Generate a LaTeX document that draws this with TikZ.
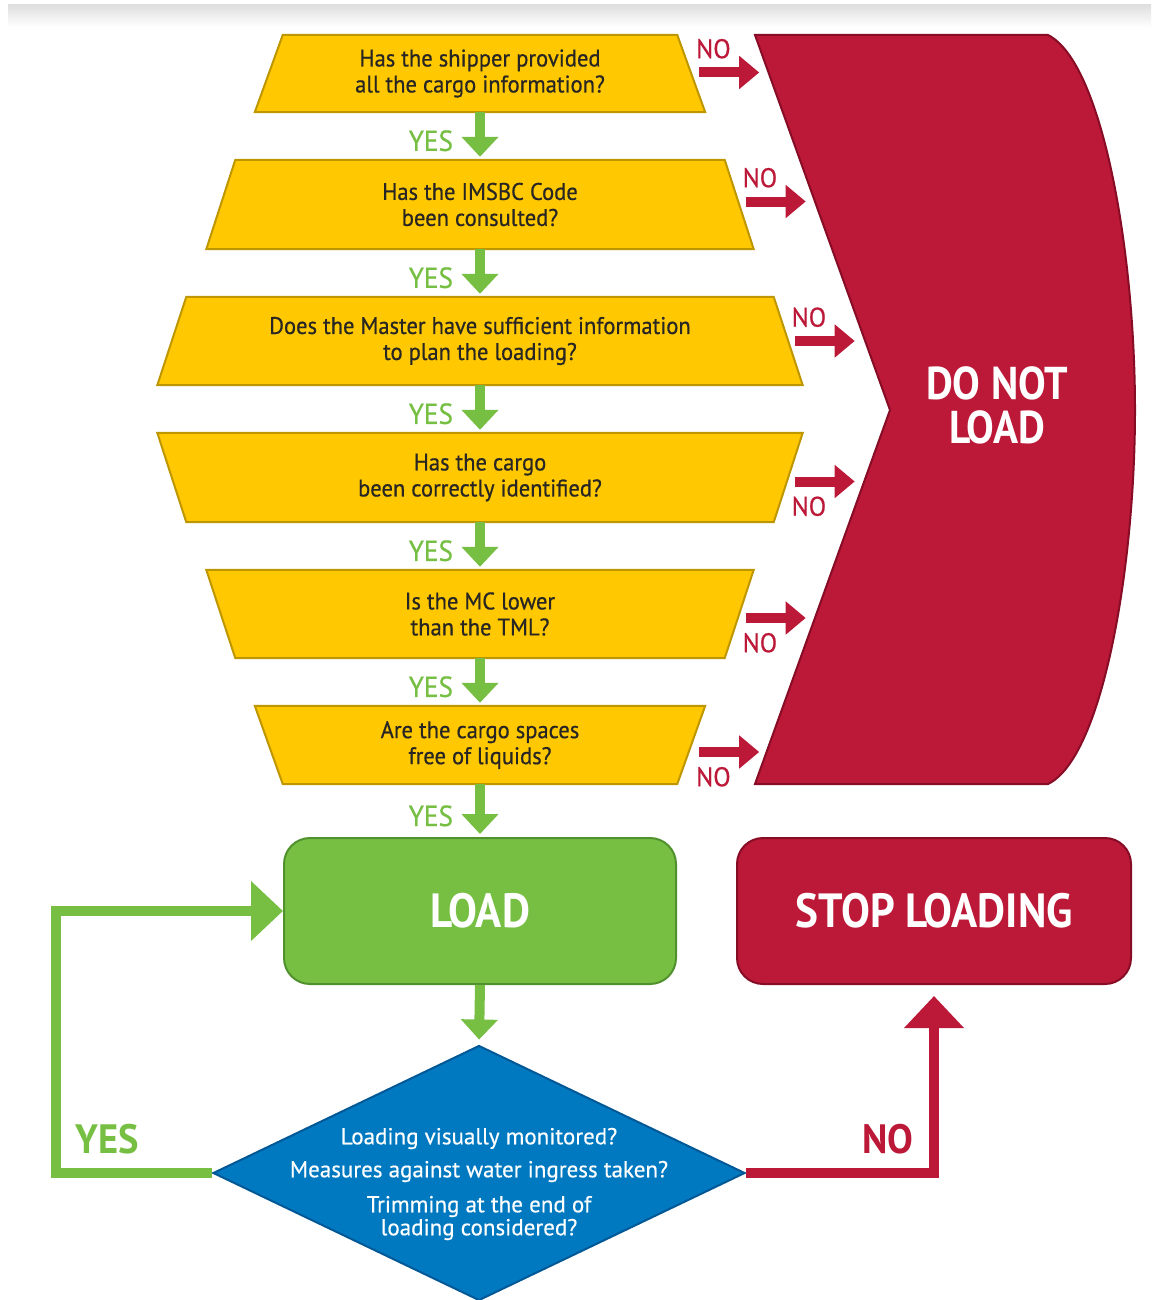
\documentclass[tikz,border=0pt]{standalone}
\usepackage{fontspec}
\setmainfont{PT Sans}[FakeStretch=0.94]
\newfontfamily\medfont{PT Sans}[FakeStretch=0.94,FakeBold=0.6]
\newfontfamily\widefont{PT Sans}[FakeBold=0.4]
\newfontfamily\bigfont{PT Sans}[FakeStretch=0.9]
\usetikzlibrary{arrows.meta,shapes.geometric,positioning}
\pgfdeclarelayer{bg}
\pgfsetlayers{bg,main}
\definecolor{qyellow}{RGB}{255,200,0}
\definecolor{qgold}{RGB}{190,150,0}
\definecolor{dred}{RGB}{188,24,55}
\definecolor{dredline}{RGB}{135,12,38}
\definecolor{lgreen}{RGB}{118,191,67}
\definecolor{lgreenline}{RGB}{80,145,45}
\definecolor{mblue}{RGB}{0,121,193}
\definecolor{mblueline}{RGB}{0,88,150}
\definecolor{qtext}{RGB}{40,38,36}
% frame behind a question node: name, inset top, inset bottom
\newcommand{\qframe}[3]{%
  \begin{pgfonlayer}{bg}
    \draw[qfill] ([xshift=#2pt]#1.north west) -- ([xshift=-#2pt]#1.north east)
      -- ([xshift=-#3pt]#1.south east) -- ([xshift=#3pt]#1.south west) -- cycle;
  \end{pgfonlayer}}
\tikzset{
  qfill/.style={fill=qyellow,draw=qgold,line width=2pt},
  qnode/.style={inner sep=0pt,align=center,text=qtext,
    font=\medfont\fontsize{24}{26}\selectfont},
  yesarrow/.style={draw=lgreen,line width=10pt,
    -{Triangle[width=36pt,length=20pt]},shorten >=3pt},
  yeslbl/.style={text=lgreen,inner sep=0pt,anchor=east,xshift=-22pt,pos=0.6,
    font=\medfont\fontsize{29}{29}\selectfont},
  noarrow/.style={draw=dred,line width=10pt,
    -{Triangle[width=32pt,length=20pt]}},
  nolbl/.style={text=dred,inner sep=0pt,pos=0,
    font=\medfont\fontsize{27}{27}\selectfont},
  noup/.style={nolbl,anchor=south west,xshift=-8pt,yshift=9pt},
  nodown/.style={nolbl,anchor=north west,xshift=-8pt,yshift=-10pt},
  endbox/.style={rounded corners=26pt,minimum width=392pt,minimum height=146pt,
    line width=2pt,text=white,font=\bigfont\fontsize{48}{48}\selectfont\bfseries},
  loopline/.style={line width=10pt,-{Triangle[width=58pt,length=32pt]}},
  biglbl/.style={inner sep=0pt,font=\fontsize{41}{41}\selectfont\bfseries},
}
\begin{document}
\begin{tikzpicture}[x=1pt,y=-1pt]
  \useasboundingbox (0,0) rectangle (1151,1300);
  \shade[top color=gray!25,bottom color=white] (8,5) rectangle (1151,27);

  % questions
  \node[qnode,minimum width=450pt,minimum height=77pt] (q1) at (480,73.5)
    {Has the shipper provided\\all the cargo information?};
  \qframe{q1}{28}{0}
  \node[qnode,minimum width=547pt,minimum height=89pt] (q2) at (480,204.5)
    {Has the IMSBC Code\\been consulted?};
  \qframe{q2}{29}{0}
  \node[qnode,minimum width=645pt,minimum height=88pt] (q3) at (480,341)
    {Does the Master have sufficient information\\to plan the loading?};
  \qframe{q3}{29}{0}
  \node[qnode,minimum width=645pt,minimum height=89pt] (q4) at (480,477.5)
    {Has the cargo\\been correctly identified?};
  \qframe{q4}{0}{29}
  \node[qnode,minimum width=547pt,minimum height=88pt] (q5) at (480,614)
    {Is the MC lower\\than the TML?};
  \qframe{q5}{0}{29}
  \node[qnode,minimum width=450pt,minimum height=78pt] (q6) at (480,745)
    {Are the cargo spaces\\free of liquids?};
  \qframe{q6}{0}{28}

  % do not load
  \draw[fill=dred,draw=dredline,line width=2pt] (755,35) -- (1048,35)
    .. controls (1102,62) and (1135,250) .. (1135,410)
    .. controls (1135,570) and (1102,758) .. (1048,784)
    -- (755,784) -- (890,410) -- cycle;
  \node[align=center,text=white,font=\bigfont\fontsize{46}{44}\selectfont\bfseries]
    (dnl) at (997,405) {DO NOT\\LOAD};

  % end boxes
  \node[endbox,fill=lgreen,draw=lgreenline] (load) at (480,911) {LOAD};
  \node[endbox,fill=dred,draw=dredline,minimum width=394pt] (stop) at (934,911)
    {STOP LOADING};
  \node[diamond,fill=mblue,draw=mblueline,line width=2pt,inner sep=0pt,
    minimum width=532pt,minimum height=255pt] (chk) at (479,1173) {};
  \node[align=center,text=white,font=\widefont\fontsize{23}{23}\selectfont,
    yshift=-11pt] (chktxt) at (chk) {Loading visually monitored?\\[10pt]
    Measures against water ingress taken?\\[12pt]
    Trimming at the end of\\loading considered?};

  % yes arrows
  \draw[yesarrow] (q1.south) -- node[yeslbl] {YES} (q2.north);
  \draw[yesarrow] (q2.south) -- node[yeslbl] {YES} (q3.north);
  \draw[yesarrow] (q3.south) -- node[yeslbl] {YES} (q4.north);
  \draw[yesarrow] (q4.south) -- node[yeslbl] {YES} (q5.north);
  \draw[yesarrow] (q5.south) -- node[yeslbl] {YES} (q6.north);
  \draw[yesarrow] (q6.south) -- node[yeslbl] {YES} (load.north);
  \draw[yesarrow,shorten >=5pt] (load.south) -- (chk.north);

  % no arrows
  \draw[noarrow] ([xshift=-6pt,yshift=1pt]q1.east) -- node[noup] {NO} ++(60,0);
  \draw[noarrow] ([xshift=-8pt,yshift=3pt]q2.east) -- node[noup] {NO} ++(60,0);
  \draw[noarrow] ([xshift=-8pt]q3.east) -- node[noup] {NO} ++(60,0);
  \draw[noarrow] ([xshift=-8pt,yshift=-4pt]q4.east) -- node[nodown] {NO} ++(60,0);
  \draw[noarrow] ([xshift=-8pt,yshift=-4pt]q5.east) -- node[nodown] {NO} ++(60,0);
  \draw[noarrow] ([xshift=-6pt,yshift=-7pt]q6.east) -- node[nodown] {NO} ++(60,0);

  % loops
  \draw[loopline,draw=lgreen] (chk.west) -- node[biglbl,text=lgreen,pos=0.67,
    anchor=south,yshift=14pt] {YES} ++(-156,0) |- (load.west);
  \draw[loopline,draw=dred,shorten >=11pt] (chk.east) -| node[biglbl,text=dred,
    pos=0.378,anchor=south,yshift=14pt] {NO} (stop.south);
\end{tikzpicture}
\end{document}
